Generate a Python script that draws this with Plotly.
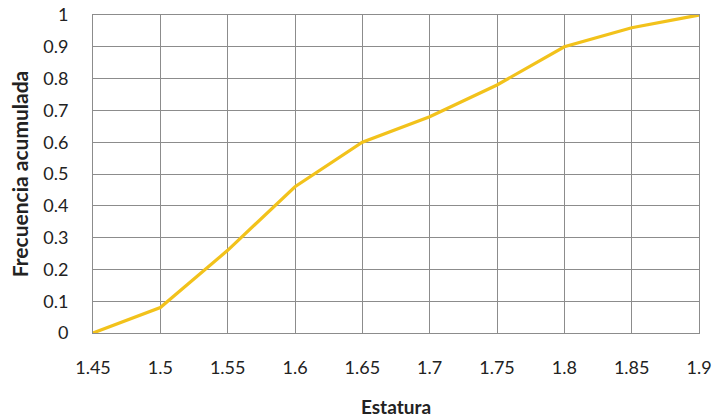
import plotly.graph_objects as go

estatura = [1.45, 1.5, 1.55, 1.6, 1.65, 1.7, 1.75, 1.8, 1.85, 1.9]
frec_acum = [0, 0.08, 0.26, 0.46, 0.60, 0.68, 0.78, 0.90, 0.96, 1.0]
x_ticks = [1.45, 1.5, 1.55, 1.6, 1.65, 1.7, 1.75, 1.8, 1.85, 1.9]
x_labels = ["1.45", "1.5", "1.55", "1.6", "1.65", "1.7", "1.75", "1.8", "1.85", "1.9"]
y_ticks = [0, 0.1, 0.2, 0.3, 0.4, 0.5, 0.6, 0.7, 0.8, 0.9, 1]
y_labels = ["0", "0.1", "0.2", "0.3", "0.4", "0.5", "0.6", "0.7", "0.8", "0.9", "1"]

font_family = "Lato, Open Sans, sans-serif"

fig = go.Figure()
fig.add_trace(go.Scatter(x=estatura, y=frec_acum, mode="lines",
                         line=dict(color="#F2C21B", width=3.2)))

fig.update_layout(
    width=720, height=418,
    margin=dict(l=93, r=21, t=15, b=85),
    paper_bgcolor="white", plot_bgcolor="white",
    showlegend=False,
    font=dict(family=font_family, color="#222"),
    xaxis=dict(range=[1.45, 1.9], tickvals=x_ticks, ticktext=x_labels,
               automargin=False,
               showgrid=True, gridcolor="#8c8c8c", gridwidth=1,
               showline=True, linecolor="#8c8c8c", linewidth=1, mirror=True,
               zeroline=False, ticks="", tickfont=dict(size=18, family=font_family),
               title=dict(text="<b>Estatura</b>", font=dict(size=19, family=font_family),
                          standoff=25)),
    yaxis=dict(range=[0, 1], tickvals=y_ticks, ticktext=y_labels,
               automargin=False,
               showgrid=True, gridcolor="#8c8c8c", gridwidth=1,
               showline=True, linecolor="#8c8c8c", linewidth=1, mirror=True,
               zeroline=False, ticks="", ticklen=0, tickfont=dict(size=18, family=font_family),
               title=dict(text="<b>Frecuencia acumulada</b>", font=dict(size=21, family=font_family),
                          standoff=8)),
)
fig.update_yaxes(ticklabelstandoff=20)
fig.update_xaxes(ticklabelstandoff=18)

fig.write_html("out.html")
